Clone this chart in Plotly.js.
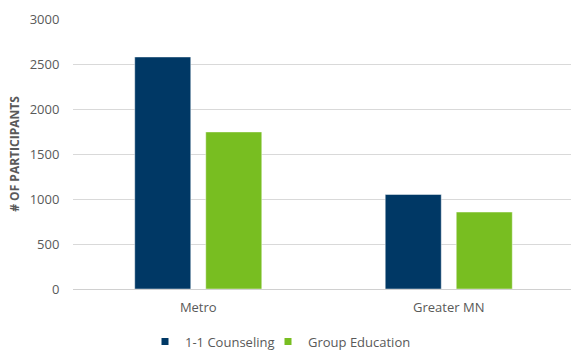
<!DOCTYPE html>
<html>
<head>
<meta charset="utf-8">
<script src="https://cdn.plot.ly/plotly-3.0.1.min.js"></script>
<style>html,body{margin:0;padding:0;background:#fff}#chart{width:571px;height:350px}</style>
</head>
<body>
<div id="chart"></div>
<script>
var categories = ["Metro", "Greater MN"];
var seriesNames = ["1-1 Counseling", "Group Education"];
var counseling = [2578, 1050];
var groupEducation = [1745, 855];
var yTicks = [0, 500, 1000, 1500, 2000, 2500, 3000];

var colors = ["#003865", "#78BE21"];
var values = [counseling, groupEducation];
var legendIds = ["legend", "legend2"];

var traces = [];
values.forEach(function (v, i) {
  traces.push({
    type: "bar",
    x: categories,
    y: v,
    name: seriesNames[i],
    showlegend: false,
    marker: { color: colors[i], line: { color: "rgba(255,255,255,0.45)", width: 1 } },
    hoverinfo: "x+y"
  });
});
values.forEach(function (v, i) {
  traces.push({
    type: "scatter",
    mode: "markers",
    x: [null],
    y: [null],
    name: seriesNames[i],
    legend: legendIds[i],
    marker: { symbol: "square", size: 7, color: colors[i] },
    showlegend: true
  });
});

var gray = "#595959";
function legendAt(xpx) {
  return {
    orientation: "h",
    xref: "container",
    yref: "container",
    x: xpx / 571,
    y: 0.024,
    yanchor: "middle",
    xanchor: "left",
    font: { size: 13, color: gray },
    itemwidth: 30,
    bgcolor: "rgba(0,0,0,0)"
  };
}

var layout = {
  width: 571,
  height: 350,
  margin: { l: 73, r: 0, t: 19, b: 61, pad: 0, autoexpand: false },
  paper_bgcolor: "#ffffff",
  plot_bgcolor: "#ffffff",
  font: { family: "Open Sans, sans-serif", size: 13, color: gray },
  barmode: "group",
  bargap: 0.433,
  bargroupgap: 0.211,
  showlegend: true,
  legend: legendAt(145),
  legend2: legendAt(268),
  xaxis: {
    type: "category",
    range: [-0.5, 1.488],
    showgrid: false,
    showline: false,
    zeroline: false,
    ticks: "outside",
    ticklen: 6,
    tickcolor: "rgba(0,0,0,0)",
    tickfont: { size: 13, color: gray },
    fixedrange: true
  },
  yaxis: {
    range: [0, 3000],
    tickvals: yTicks,
    ticktext: yTicks.map(String),
    showgrid: true,
    gridcolor: "#d9d9d9",
    gridwidth: 1,
    zeroline: true,
    zerolinecolor: "#d0d0d0",
    zerolinewidth: 1,
    showline: false,
    ticks: "outside",
    ticklen: 10,
    tickcolor: "rgba(0,0,0,0)",
    tickfont: { size: 13, color: gray },
    automargin: false,
    title: {
      text: "<b># OF PARTICIPANTS</b>",
      font: { size: 12, color: gray },
      standoff: 7
    },
    fixedrange: true
  }
};

Plotly.newPlot("chart", traces, layout, { displayModeBar: false, staticPlot: true });
</script>
</body>
</html>
